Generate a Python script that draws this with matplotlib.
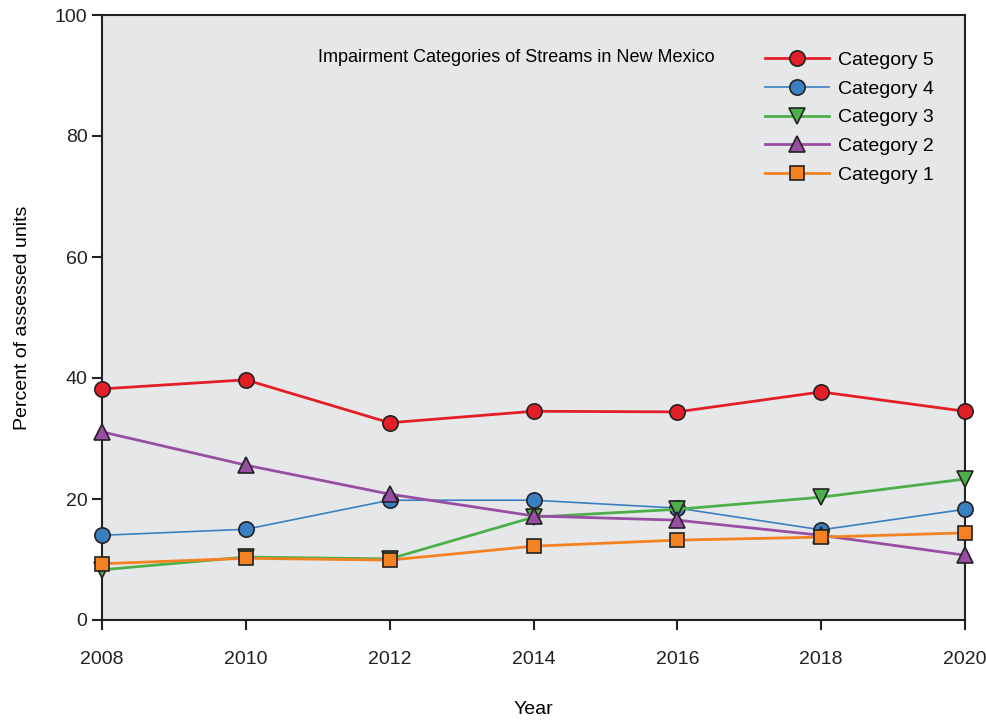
import numpy as np
import matplotlib.pyplot as plt

# Impairment categories of streams in New Mexico
years = [2008, 2010, 2012, 2014, 2016, 2018, 2020]
cat5 = [38.2, 39.7, 32.6, 34.5, 34.4, 37.7, 34.5]
cat4 = [14.0, 15.0, 19.8, 19.8, 18.5, 14.9, 18.3]
cat3 = [8.3, 10.4, 10.1, 17.0, 18.3, 20.3, 23.3]
cat2 = [31.1, 25.6, 20.8, 17.2, 16.5, 14.0, 10.7]
cat1 = [9.3, 10.2, 9.9, 12.2, 13.2, 13.7, 14.4]

plt.rcParams['font.family'] = ['Liberation Sans', 'DejaVu Sans']
plt.rcParams['font.size'] = 14

W, H = 986, 723
fig = plt.figure(figsize=(W / 100, H / 100), dpi=100)
ax = fig.add_axes([102 / W, 1 - 620 / H, (965 - 102) / W, (620 - 15) / H])
ax.set_facecolor('#e6e7e9')

series = [
    ('Category 5', cat5, '#e41e26', 'o', 2.0),
    ('Category 4', cat4, '#3a7fc1', 'o', 1.2),
    ('Category 3', cat3, '#4daf4a', 'v', 2.0),
    ('Category 2', cat2, '#984ea3', '^', 2.0),
    ('Category 1', cat1, '#f58220', 's', 2.0),
]
for name, vals, col, mk, lw in series:
    ax.plot(years, vals, color=col, lw=lw, marker=mk, markersize=11 if mk != 's' else 10,
            markerfacecolor=col, markeredgecolor='#222222', markeredgewidth=1.2,
            label=name, clip_on=False, zorder=3)

ax.set_xlim(2008, 2020)
ax.set_ylim(0, 100)
ax.set_xticks(years)
ax.set_yticks([0, 20, 40, 60, 80, 100])
ax.tick_params(direction='out', length=7, width=1.5, labelsize=14, colors='#222222')
ax.tick_params(axis='x', pad=15)
for s in ax.spines.values():
    s.set_linewidth(1.5)
    s.set_color('#222222')

ax.set_xlabel('Year', fontsize=14, labelpad=24)
ax.set_ylabel('Percent of assessed units', fontsize=14, labelpad=17)

fig.text(318 / W, 1 - 58 / H, 'Impairment Categories of Streams in New Mexico',
         fontsize=13, va='center', ha='left')
leg = ax.legend(loc='upper left', bbox_to_anchor=(765 / W, 1 - 51 / H),
                bbox_transform=fig.transFigure, frameon=False, borderpad=0,
                borderaxespad=0, fontsize=14, handlelength=3.3,
                labelspacing=0.58, handletextpad=0.45)

plt.savefig('out.png', dpi=100)
